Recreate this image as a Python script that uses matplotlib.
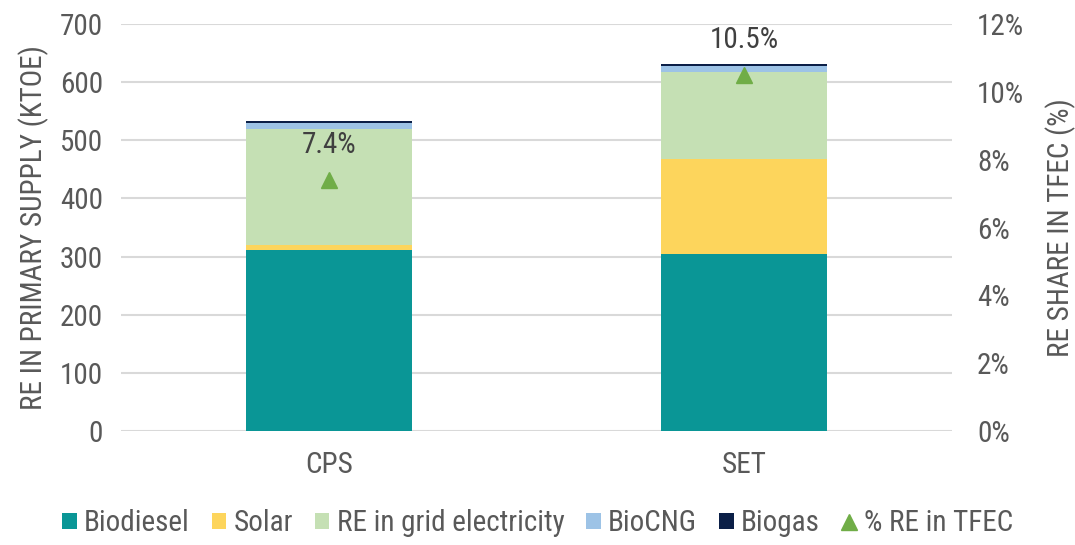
import matplotlib.pyplot as plt
import numpy as np

plt.rcParams['font.family'] = ['Roboto Condensed', 'Roboto', 'DejaVu Sans']

scenarios = ['CPS', 'SET']
biodiesel = [311, 304]
solar = [9, 163]
grid_re = [199, 150]
biocng = [10, 10]
biogas = [5, 5]
re_share = [7.4, 10.5]

series = [
    ('Biodiesel', biodiesel, '#0A9696'),
    ('Solar', solar, '#FDD55C'),
    ('RE in grid electricity', grid_re, '#C5E0B4'),
    ('BioCNG', biocng, '#9DC3E6'),
    ('Biogas', biogas, '#0B1F47'),
]

TEXT = '#595959'
FS = 21

fig = plt.figure(figsize=(10.75, 5.45), dpi=100)
ax = fig.add_axes([0.1126, 0.209, 0.773, 0.747])
ax2 = ax.twinx()

x = np.arange(len(scenarios))
bottom = np.zeros(len(scenarios))
for name, vals, col in series:
    ax.bar(x, vals, 0.4, bottom=bottom, color=col, label=name, zorder=2)
    bottom += np.array(vals)

ax.set_xlim(-0.5, 1.5)
ax.set_ylim(0, 700)
ax.set_yticks(np.arange(0, 701, 100))
ax.set_xticks(x)
ax.set_xticklabels(scenarios)
ax.grid(axis='y', color='#D9D9D9', linewidth=1.5, zorder=0)
ax.set_axisbelow(True)
for s in ax.spines.values():
    s.set_visible(False)
for s in ax2.spines.values():
    s.set_visible(False)
ax.tick_params(length=0, labelsize=FS, labelcolor=TEXT, pad=13)
ax.tick_params(axis='x', pad=14)
ax.set_ylabel('RE IN PRIMARY SUPPLY (KTOE)', fontsize=FS, color=TEXT, labelpad=8)

ax2.set_ylim(0, 12)
ax2.set_yticks(np.arange(0, 13, 2))
ax2.set_yticklabels([f'{v}%' for v in range(0, 13, 2)])
ax2.tick_params(length=0, labelsize=FS, labelcolor=TEXT, pad=18)
ax2.set_ylabel('RE SHARE IN TFEC (%)', fontsize=FS, color=TEXT, labelpad=15)

ax2.plot(x, re_share, linestyle='none', marker='^', markersize=11,
         color='#70AD47', label='% RE in TFEC', zorder=3)
for xi, v in zip(x, re_share):
    ax2.annotate(f'{v}%', (xi, v), xytext=(0, 25), textcoords='offset points',
                 ha='center', va='center', fontsize=FS, color='#404040')

h1, l1 = ax.get_legend_handles_labels()
h2, l2 = ax2.get_legend_handles_labels()
fig.legend(h1 + h2, l1 + l2, loc='center', bbox_to_anchor=(0.5, 0.04), ncol=6,
           frameon=False, fontsize=FS, labelcolor=TEXT, handlelength=0.5,
           handleheight=0.5, handletextpad=0.25, columnspacing=0.75)

fig.savefig('out.png')
